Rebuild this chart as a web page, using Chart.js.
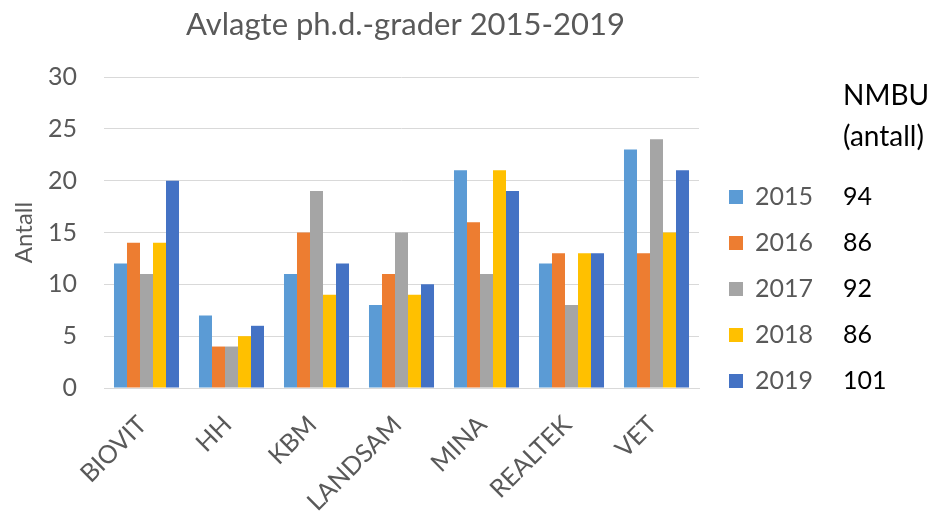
<!DOCTYPE html>
<html>
<head>
<meta charset="utf-8">
<script src="https://cdn.jsdelivr.net/npm/chart.js@4"></script>
<style>
  html, body { margin: 0; padding: 0; background: #ffffff; }
  #wrap { width: 939px; height: 514px; position: relative; }
</style>
</head>
<body>
<div id="wrap"><canvas id="c" width="939" height="514"></canvas></div>
<script>
const chartTitle = "Avlagte ph.d.-grader 2015-2019";
const yAxisTitle = "Antall";
const categories = ["BIOVIT", "HH", "KBM", "LANDSAM", "MINA", "REALTEK", "VET"];
const years = ["2015", "2016", "2017", "2018", "2019"];
const totalsHeader = ["NMBU", "(antall)"];
const totals = ["94", "86", "92", "86", "101"];
const values2015 = [12, 7, 11, 8, 21, 12, 23];
const values2016 = [14, 4, 15, 11, 16, 13, 13];
const values2017 = [11, 4, 19, 15, 11, 8, 24];
const values2018 = [14, 5, 9, 9, 21, 13, 15];
const values2019 = [20, 6, 12, 10, 19, 13, 21];
const colors = ["#5B9BD5", "#ED7D31", "#A5A5A5", "#FFC000", "#4472C4"];

const seriesValues = [values2015, values2016, values2017, values2018, values2019];
const FONT = "Lato, 'Open Sans', sans-serif";
const GRAY = "#595959";

const customPlugin = {
  id: "custom",
  afterDraw(chart) {
    const ctx = chart.ctx;
    const ca = chart.chartArea;
    ctx.save();
    // Title
    ctx.fillStyle = GRAY;
    ctx.font = "31px " + FONT;
    ctx.textAlign = "center";
    ctx.textBaseline = "middle";
    ctx.fillText(chartTitle, (ca.left + ca.right) / 2 + 4, 25);
    // Header
    ctx.fillStyle = "#000000";
    ctx.font = "28px " + FONT;
    ctx.textAlign = "left";
    ctx.fillText(totalsHeader[0], 843, 96);
    ctx.fillText(totalsHeader[1], 843, 137);
    // Legend rows
    ctx.font = "25px " + FONT;
    const rowY = [197, 243, 289, 335, 381];
    years.forEach((yr, i) => {
      const y = rowY[i];
      ctx.fillStyle = colors[i];
      ctx.fillRect(729, y - 7, 14, 14);
      ctx.fillStyle = GRAY;
      ctx.fillText(yr, 755, y);
      ctx.fillStyle = "#000000";
      ctx.fillText(totals[i], 843, y);
    });
    ctx.restore();
  }
};

new Chart(document.getElementById("c"), {
  type: "bar",
  data: {
    labels: categories,
    datasets: years.map((yr, i) => ({
      label: yr,
      data: seriesValues[i],
      backgroundColor: colors[i],
      borderWidth: 0,
      categoryPercentage: 0.765,
      barPercentage: 1.0
    }))
  },
  options: {
    responsive: false,
    animation: false,
    devicePixelRatio: 1,
    layout: { padding: { left: 0, right: 240, top: 77, bottom: 0 } },
    plugins: {
      legend: { display: false },
      title: { display: false },
      tooltip: { enabled: false }
    },
    scales: {
      x: {
        afterFit: (s) => { s.height = 126; },
        grid: { display: false, drawTicks: false },
        border: { display: true, color: "#D9D9D9", width: 1 },
        ticks: {
          color: GRAY,
          font: { family: FONT, size: 25 },
          minRotation: 45,
          maxRotation: 45,
          padding: 22,
          labelOffset: -4,
          autoSkip: false
        }
      },
      y: {
        min: 0,
        max: 30,
        afterFit: (s) => { s.width = 104; },
        grid: { color: "#D9D9D9", lineWidth: 1, drawTicks: false },
        border: { display: false },
        ticks: {
          stepSize: 5,
          color: GRAY,
          font: { family: FONT, size: 25 },
          padding: 27
        },
        title: {
          display: true,
          text: yAxisTitle,
          color: GRAY,
          font: { family: FONT, size: 24 },
          padding: { top: 10, bottom: 0 }
        }
      }
    }
  },
  plugins: [customPlugin]
});
</script>
</body>
</html>
